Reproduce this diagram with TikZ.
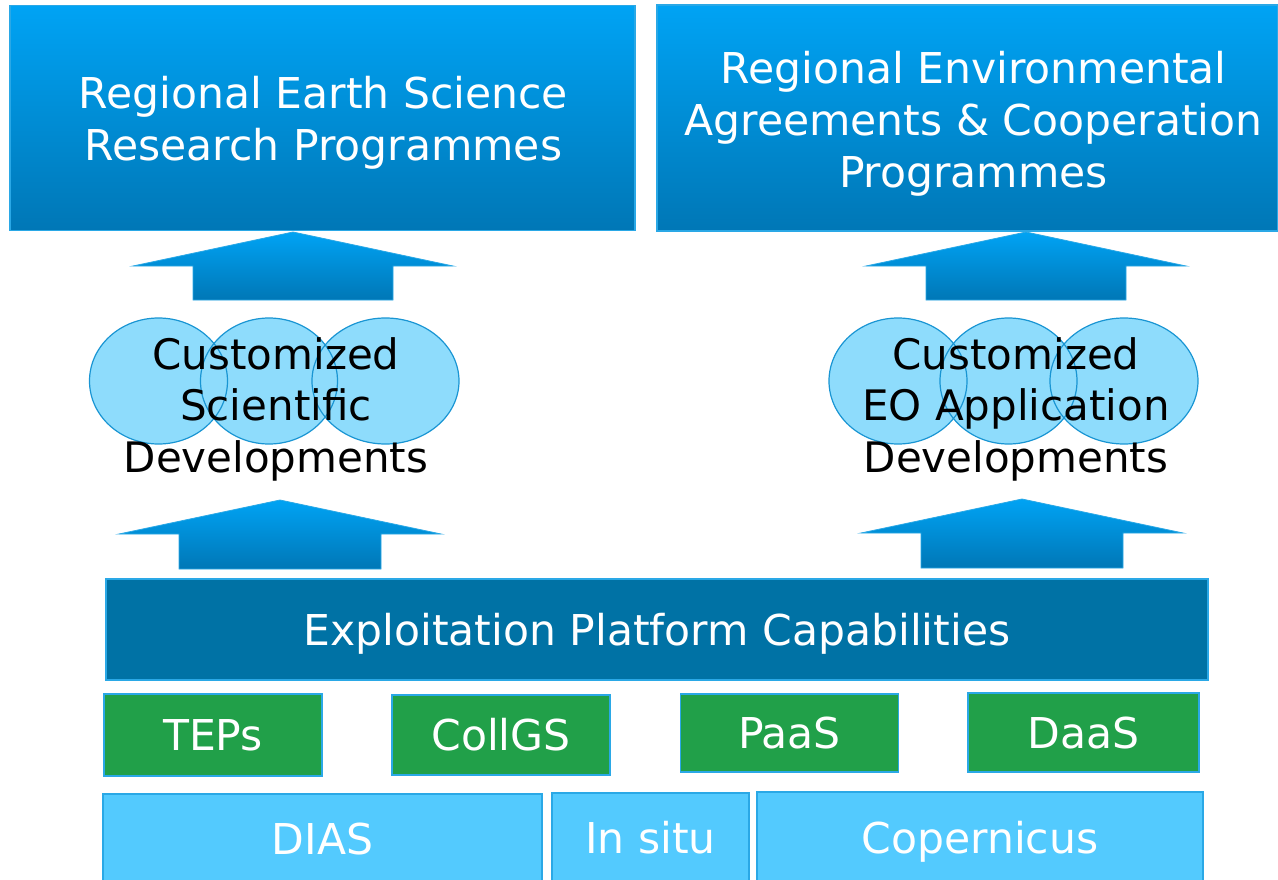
\documentclass[tikz,border=0pt]{standalone}
\usepackage{fontspec}
\setmainfont{DejaVu Sans}
\usetikzlibrary{shapes.geometric}
\definecolor{gtop}{HTML}{00A3F4}
\definecolor{gbot}{HTML}{0077B6}
\definecolor{edgeb}{HTML}{2AA8E6}
\definecolor{ellfill}{HTML}{8EDCFC}
\definecolor{elledge}{HTML}{1995D3}
\definecolor{darkbox}{HTML}{0072A5}
\definecolor{greenbox}{HTML}{21A049}
\definecolor{lightbox}{HTML}{53CAFE}
\tikzset{
  bigfont/.style={font=\fontsize{42.5}{52}\selectfont},
  onetext/.style={text height=31pt, text depth=0pt},
  topbox/.style={rectangle, draw=edgeb, line width=1.5pt, top color=gtop, bottom color=gbot,
    inner sep=0pt},
  toptext/.style={text=white, align=center, inner sep=0pt, bigfont},
  platbox/.style={rectangle, draw=edgeb, line width=1.5pt, fill=darkbox, text=white,
    inner sep=0pt, bigfont, onetext},
  svcbox/.style={rectangle, draw=edgeb, line width=1.5pt, fill=greenbox, text=white,
    inner sep=0pt, bigfont, onetext},
  databox/.style={rectangle, draw=edgeb, line width=1.5pt, fill=lightbox, text=white,
    inner sep=0pt, bigfont, onetext},
  ellbox/.style={ellipse, fill=ellfill, inner sep=0pt, minimum height=126pt},
  ellline/.style={ellipse, draw=elledge, line width=1.2pt, inner sep=0pt, minimum height=126pt},
  elltext/.style={align=center, text=black, inner sep=0pt, font=\fontsize{42}{51.5}\selectfont},
  uparrow/.style={top color=gtop, bottom color=gbot, draw=edgeb, line width=0.8pt},
}
\begin{document}
\begin{tikzpicture}[x=1pt, y=-1pt]
\useasboundingbox (0,0) rectangle (1278,880);

% top boxes
\node[topbox, minimum width=625pt, minimum height=225pt] (res) at (322.5,118) {};
\node[toptext] (rest) at ([yshift=-5pt,xshift=1pt]res.center) {Regional Earth Science\\Research Programmes};
\node[topbox, minimum width=621pt, minimum height=226pt] (agr) at (967.5,118) {};
\node[toptext] (agrt) at ([yshift=-6pt,xshift=6pt]agr.center) {Regional Environmental\\Agreements \& Cooperation\\Programmes};

% upper arrows
\shade[uparrow] (293,232) -- (453,266) -- (393,266) -- (393,300) -- (193,300) -- (193,266) -- (133,266) -- cycle;
\shade[uparrow] (1026,232) -- (1186,266) -- (1126,266) -- (1126,300) -- (926,300) -- (926,266) -- (866,266) -- cycle;

% ellipses left
\node[ellbox, minimum width=138pt] (l1) at (158.5,381) {};
\node[ellbox, minimum width=137pt] (l2) at (269,381) {};
\node[ellbox, minimum width=147pt] (l3) at (385.5,381) {};
\node[ellline, minimum width=138pt] (l1b) at (158.5,381) {};
\node[ellline, minimum width=137pt] (l2b) at (269,381) {};
\node[ellline, minimum width=147pt] (l3b) at (385.5,381) {};
% ellipses right
\node[ellbox, minimum width=138pt] (r1) at (898,381) {};
\node[ellbox, minimum width=137pt] (r2) at (1008.5,381) {};
\node[ellbox, minimum width=148pt] (r3) at (1124,381) {};
\node[ellline, minimum width=138pt] (r1b) at (898,381) {};
\node[ellline, minimum width=137pt] (r2b) at (1008.5,381) {};
\node[ellline, minimum width=148pt] (r3b) at (1124,381) {};

\node[elltext] (sci) at (276,409) {Customized\\Scientific\\Developments};
\node[elltext] (app) at (1016,409) {Customized\\EO Application\\Developments};

% lower arrows
\shade[uparrow] (280,500) -- (441,534) -- (381,534) -- (381,569) -- (179,569) -- (179,534) -- (119,534) -- cycle;
\shade[uparrow] (1022,499) -- (1183,533) -- (1123,533) -- (1123,568) -- (921,568) -- (921,533) -- (861,533) -- cycle;

% platform
\node[platbox, minimum width=1102pt, minimum height=101pt, text depth=-5pt] (plat) at (657,629.5)
  {Exploitation Platform Capabilities};

% services
\node[svcbox, minimum width=218pt, minimum height=82pt] (teps) at (213,735) {TEPs};
\node[svcbox, minimum width=218pt, minimum height=80pt] (collgs) at (501,735) {CollGS};
\node[svcbox, minimum width=218pt, minimum height=78pt] (paas) at (789.5,733) {PaaS};
\node[svcbox, minimum width=231pt, minimum height=79pt] (daas) at (1083.5,732.5) {DaaS};

% data
\node[databox, minimum width=439pt, minimum height=90pt] (dias) at (322.5,839) {DIAS};
\node[databox, minimum width=197pt, minimum height=90pt] (insitu) at (650.5,838) {In situ};
\node[databox, minimum width=446pt, minimum height=92pt] (cop) at (980,838) {Copernicus};
\end{tikzpicture}
\end{document}
